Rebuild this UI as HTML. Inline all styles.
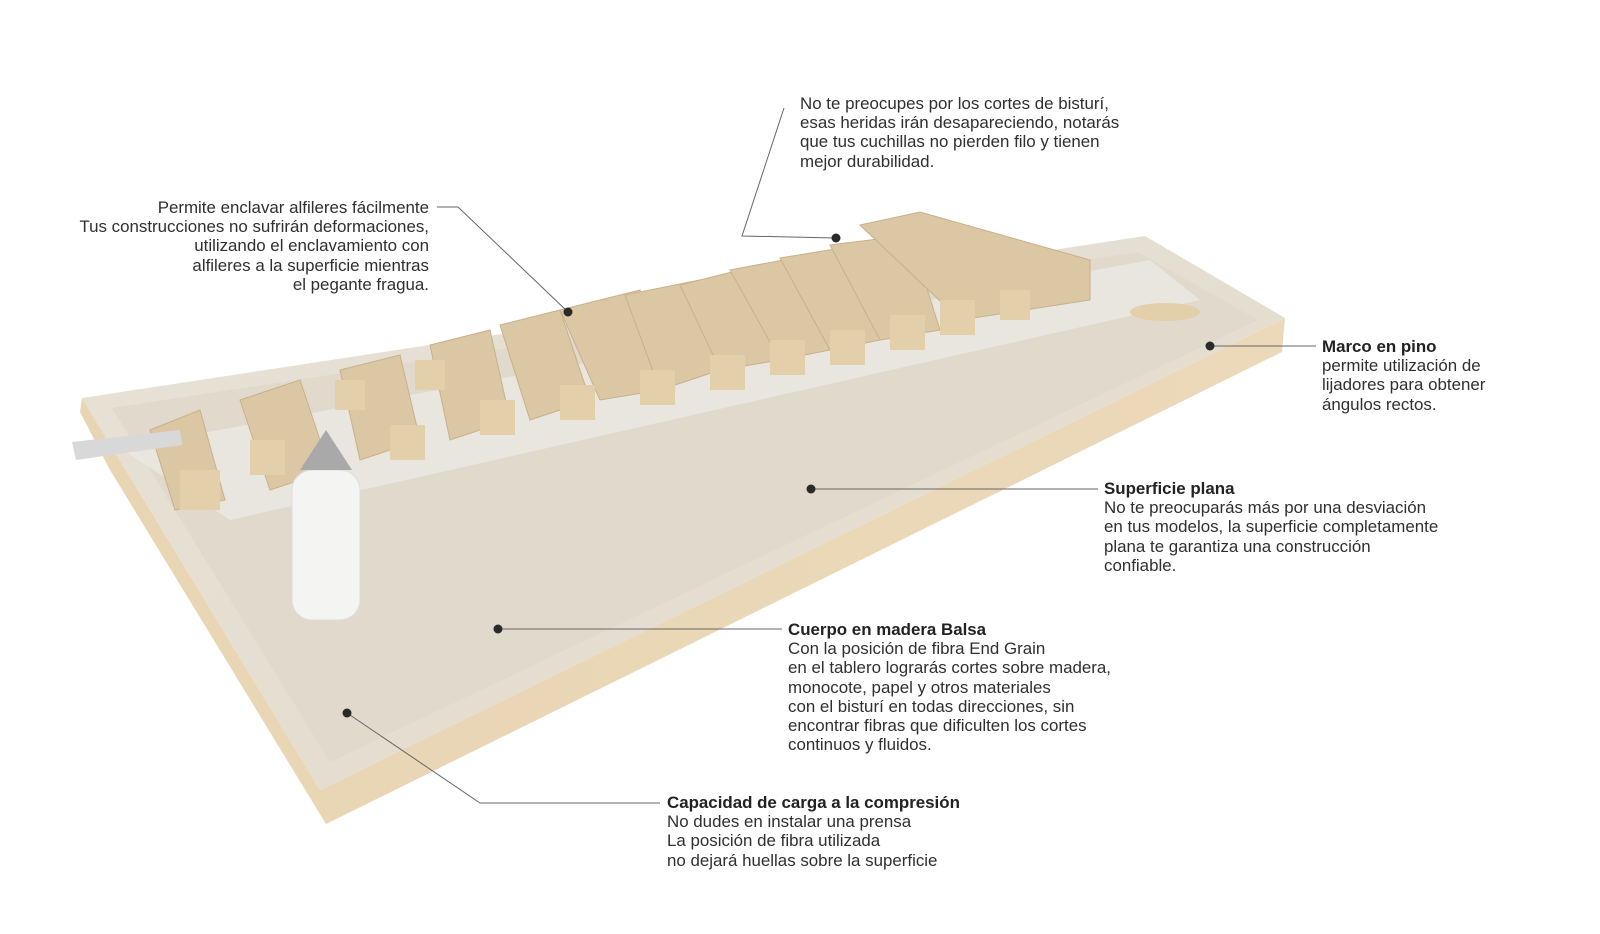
<!DOCTYPE html>
<html><head><meta charset="utf-8"><style>
html,body{margin:0;padding:0;background:#fff;}
body{width:1600px;height:934px;position:relative;overflow:hidden;font-family:"Liberation Sans",sans-serif;}
.t{position:absolute;font-size:16.9px;line-height:19.2px;color:#2f2f2f;white-space:nowrap;}
.t b{color:#222;}
svg{position:absolute;left:0;top:0;}
</style></head><body>
<svg width="1600" height="934" viewBox="0 0 1600 934">
<defs>
<linearGradient id="top" x1="0" y1="0" x2="1" y2="1">
<stop offset="0" stop-color="#e8e2d6"/><stop offset="0.6" stop-color="#e4ddd0"/><stop offset="1" stop-color="#ede6d8"/></linearGradient>
<linearGradient id="side" x1="0" y1="0" x2="1" y2="0">
<stop offset="0" stop-color="#e8d5b4"/><stop offset="1" stop-color="#ecd9b9"/></linearGradient>
</defs>
<polygon points="82,398 320,790 1285,318 1282,352 326,824 110,470 80,412" fill="url(#side)"/>
<polygon points="82,398 1145,236 1285,318 320,790" fill="url(#top)"/>
<polygon points="112,408 1138,252 1258,320 330,762" fill="#e0d9cc"/>
<polygon points="120,448 1150,260 1200,300 230,520" fill="#ebe9e4" opacity="0.8"/>
<g fill="#dcc7a4" stroke="#c8b08a" stroke-width="1">
<polygon points="150,430 200,410 225,500 175,510"/>
<polygon points="240,400 300,380 330,470 270,490"/>
<polygon points="340,370 400,355 420,440 360,460"/>
<polygon points="430,345 490,330 510,420 450,440"/>
<polygon points="500,325 560,310 590,400 530,420"/>
<polygon points="560,310 640,290 660,390 600,400"/>
<polygon points="625,295 700,280 720,370 660,390"/>
<polygon points="680,285 760,265 780,360 720,370"/>
<polygon points="730,270 810,255 830,350 780,360"/>
<polygon points="780,258 860,245 880,340 830,350"/>
<polygon points="830,245 910,235 940,330 880,340"/>
<polygon points="860,225 920,212 1090,260 1090,300 960,320"/>
</g>
<g fill="#e3cfaa">
<rect x="180" y="470" width="40" height="40"/><rect x="250" y="440" width="35" height="35"/>
<rect x="335" y="380" width="30" height="30"/><rect x="390" y="425" width="35" height="35"/>
<rect x="415" y="360" width="30" height="30"/><rect x="480" y="400" width="35" height="35"/>
<rect x="560" y="385" width="35" height="35"/><rect x="640" y="370" width="35" height="35"/>
<rect x="710" y="355" width="35" height="35"/><rect x="770" y="340" width="35" height="35"/>
<rect x="830" y="330" width="35" height="35"/><rect x="890" y="315" width="35" height="35"/>
<rect x="940" y="300" width="35" height="35"/><rect x="1000" y="290" width="30" height="30"/>
<ellipse cx="1165" cy="312" rx="35" ry="9"/>
</g>
<polygon points="72,442 180,430 182,445 76,460" fill="#d8d8d8"/>
<rect x="292" y="470" width="68" height="150" rx="20" fill="#f4f4f2" stroke="#ddd"/>
<polygon points="300,470 352,470 326,430" fill="#a9a9a9"/>
<g stroke="#666" stroke-width="1" fill="none">
<polyline points="784,108 742,236 836,238"/>
<polyline points="437,207 458,207 568,312"/>
<line x1="1210" y1="346" x2="1316" y2="346"/>
<line x1="811" y1="489" x2="1098" y2="489"/>
<line x1="498" y1="629" x2="782" y2="629"/>
<polyline points="347,713 480,803 660,803"/>
</g>
<g fill="#2a2a2a">
<circle cx="836" cy="238" r="4.5"/><circle cx="568" cy="312" r="4.5"/>
<circle cx="1210" cy="346" r="4.5"/><circle cx="811" cy="489" r="4.5"/>
<circle cx="498" cy="629" r="4.5"/><circle cx="347" cy="713" r="4.5"/>
</g>
</svg>
<div class="t" style="left:800px;top:94px;">No te preocupes por los cortes de bisturí,<br>esas heridas irán desapareciendo, notarás<br>que tus cuchillas no pierden filo y tienen<br>mejor durabilidad.</div>
<div class="t" style="right:1171px;top:198px;text-align:right;">Permite enclavar alfileres fácilmente<br>Tus construcciones no sufrirán deformaciones,<br>utilizando el enclavamiento con<br>alfileres a la superficie mientras<br>el pegante fragua.</div>
<div class="t" style="left:1322px;top:337px;"><b>Marco en pino</b><br>permite utilización de<br>lijadores para obtener<br>ángulos rectos.</div>
<div class="t" style="left:1104px;top:479px;"><b>Superficie plana</b><br>No te preocuparás más por una desviación<br>en tus modelos, la superficie completamente<br>plana te garantiza una construcción<br>confiable.</div>
<div class="t" style="left:788px;top:620px;"><b>Cuerpo en madera Balsa</b><br>Con la posición de fibra End Grain<br>en el tablero lograrás cortes sobre madera,<br>monocote, papel y otros materiales<br>con el bisturí en todas direcciones, sin<br>encontrar fibras que dificulten los cortes<br>continuos y fluidos.</div>
<div class="t" style="left:667px;top:793px;"><b>Capacidad de carga a la compresión</b><br>No dudes en instalar una prensa<br>La posición de fibra utilizada<br>no dejará huellas sobre la superficie</div>
</body></html>
